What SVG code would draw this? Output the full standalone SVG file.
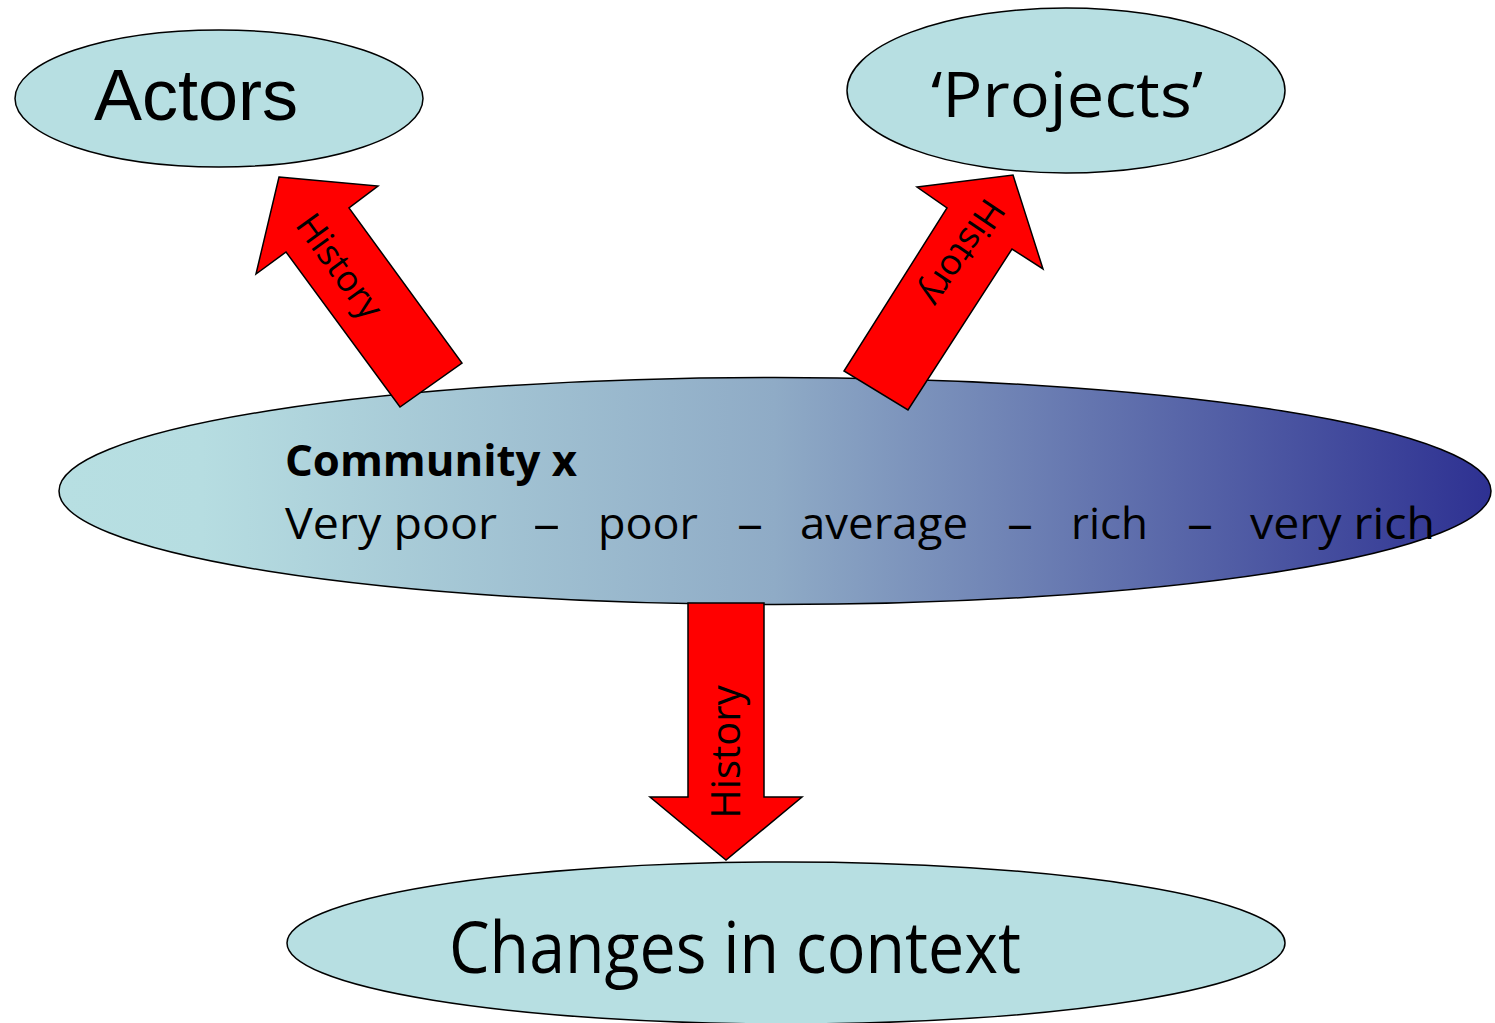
<svg xmlns="http://www.w3.org/2000/svg" width="1495" height="1023" viewBox="0 0 1495 1023">
<defs>
<linearGradient id="commGrad" gradientUnits="userSpaceOnUse" x1="59" y1="0" x2="1490" y2="0">
<stop offset="0" stop-color="#b7dfe2"/>
<stop offset="0.1" stop-color="#b6dde1"/>
<stop offset="0.5" stop-color="#8fabc6"/>
<stop offset="1" stop-color="#2e3192"/>
</linearGradient>
<style>
.node{fill:#b7dfe2;stroke:#000;stroke-width:1.5}
.arrow{fill:#ff0000;stroke:#000;stroke-width:1.5;stroke-linejoin:miter}
.cal{font-family:"Open Sans","DejaVu Sans",sans-serif;fill:#000}
.ari{font-family:"Liberation Sans",Arial,sans-serif;fill:#000}
.hist{font-family:"Open Sans","DejaVu Sans",sans-serif;fill:#000;text-anchor:middle}
</style>
</defs>
<rect width="1495" height="1023" fill="#fff"/>

<g id="actors">
<ellipse class="node" cx="219" cy="98.5" rx="204" ry="68.5"/>
<text class="ari" x="94" y="120" font-size="73" textLength="204" lengthAdjust="spacingAndGlyphs">Actors</text>
</g>

<g id="projects">
<ellipse class="node" cx="1066" cy="90.5" rx="219" ry="82.5"/>
<text class="cal" x="931" y="117" font-size="62" textLength="272" lengthAdjust="spacingAndGlyphs">‘Projects’</text>
</g>

<g id="community">
<ellipse cx="775" cy="491" rx="716" ry="113.5" fill="url(#commGrad)" stroke="#000" stroke-width="1.5"/>
<text class="cal" x="285" y="476" font-size="43" font-weight="bold" textLength="292" lengthAdjust="spacingAndGlyphs">Community x</text>
<g class="cal" font-size="43">
<text x="285" y="539" textLength="212" lengthAdjust="spacingAndGlyphs">Very poor</text>
<text x="533" y="539" textLength="27" lengthAdjust="spacingAndGlyphs">–</text>
<text x="598" y="539" textLength="100" lengthAdjust="spacingAndGlyphs">poor</text>
<text x="737" y="539" textLength="26" lengthAdjust="spacingAndGlyphs">–</text>
<text x="800" y="539" textLength="168" lengthAdjust="spacingAndGlyphs">average</text>
<text x="1007" y="539" textLength="26" lengthAdjust="spacingAndGlyphs">–</text>
<text x="1071" y="539" textLength="77" lengthAdjust="spacingAndGlyphs">rich</text>
<text x="1187" y="539" textLength="26" lengthAdjust="spacingAndGlyphs">–</text>
<text x="1250" y="539" textLength="185" lengthAdjust="spacingAndGlyphs">very rich</text>
</g>
</g>

<g id="changes">
<ellipse class="node" cx="786" cy="943" rx="499" ry="81"/>
<text class="cal" x="449" y="973" font-size="71" textLength="572" lengthAdjust="spacingAndGlyphs">Changes in context</text>
</g>

<g id="connectors">
<g id="arrow-actors">
<polygon class="arrow" points="279,177 378,186 349,208 462,363 400,407 286,252 256,274"/>
<text class="hist" transform="translate(340,266) rotate(54)" x="0" y="13" font-size="36">History</text>
</g>
<g id="arrow-projects">
<polygon class="arrow" points="1013,175 1043,269 1012,249 908,410 844,371 947,208 917,187"/>
<text class="hist" transform="translate(963,253) rotate(124)" x="0" y="13" font-size="36">History</text>
</g>
<g id="arrow-changes">
<polygon class="arrow" points="688,603 764,603 764,797 802,797 726,860 650,797 688,797"/>
<text class="hist" transform="translate(726,752) rotate(-90)" x="0" y="14" font-size="40">History</text>
</g>
</g>
</svg>
